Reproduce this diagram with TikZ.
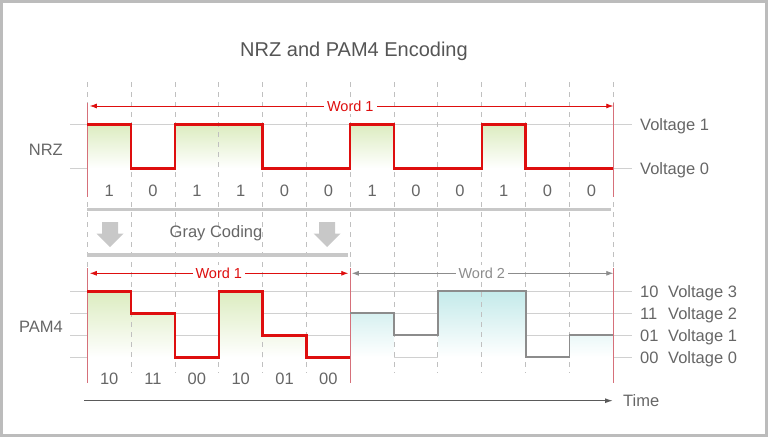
\documentclass[tikz,border=0pt]{standalone}
\usepackage{fontspec}
\setmainfont{Liberation Sans}
\usetikzlibrary{arrows.meta}
\definecolor{sigred}{RGB}{222,14,14}
\definecolor{edgered}{RGB}{214,112,122}
\definecolor{txtgray}{RGB}{102,102,102}
\definecolor{titlegray}{RGB}{85,85,85}
\definecolor{gridgray}{RGB}{208,208,208}
\definecolor{dashgray}{RGB}{192,192,192}
\definecolor{bargray}{RGB}{200,200,200}
\definecolor{wavegray}{RGB}{140,140,140}
\definecolor{axisgray}{RGB}{90,90,90}
\definecolor{framegray}{RGB}{188,188,188}
\definecolor{fillgreen}{RGB}{220,236,192}
\definecolor{fillcyan}{RGB}{196,234,234}

\begin{document}
\begin{tikzpicture}[x=1pt,y=-1pt,
    lbl/.style={text=txtgray,font=\fontsize{16.5}{18}\selectfont,inner sep=0pt,text height=11.8pt,text depth=0pt},
    ttl/.style={text=titlegray,font=\fontsize{20}{22}\selectfont,inner sep=0pt,text height=14.3pt,text depth=0pt},
    wordtxt/.style={font=\fontsize{14.5}{16}\selectfont,fill=white,inner sep=3pt,text height=10.4pt,text depth=0pt},
    level/.style={gridgray,line width=1pt},
    tick/.style={dashgray,dash pattern=on 5pt off 5pt,line width=0.9pt},
    edge/.style={edgered,line width=1pt},
    redwave/.style={sigred,line width=2.4pt,line join=miter},
    graywave/.style={wavegray,line width=1.8pt,line join=miter},
    bar/.style={bargray,line width=3.3pt},
    wordred/.style={sigred,line width=0.8pt,{Latex[length=7pt,width=5pt]}-{Latex[length=7pt,width=5pt]}},
    wordgray/.style={wavegray,line width=0.8pt,{Latex[length=7pt,width=5pt]}-{Latex[length=7pt,width=5pt]}},
    timeax/.style={axisgray,line width=1.2pt,-{Latex[length=8pt,width=5pt]}}]
  \useasboundingbox (0,0) rectangle (770,439);
  \draw[framegray,line width=2.7pt] (1.35,1.35) rectangle (766.6,435.6);

  \node[ttl] (title) at (354,49) {NRZ and PAM4 Encoding};
  \node[lbl,anchor=east] (nrz) at (63,150) {NRZ};
  \node[lbl,anchor=east] (pam) at (63,327) {PAM4};

  \foreach \y in {124.3,168.3,291.3,313.3,335.3,357.3}
    \draw[level] (70,\y) -- (632,\y);

  \begin{scope}[xshift=87.3pt,x=43.83pt]
    % fills fade towards the lowest level
    \foreach \a/\b in {0/1,2/4,6/7,9/10}
      \shade[top color=fillgreen,bottom color=white] (\a,124.3) rectangle (\b,168.3);
    \foreach \a/\b/\y/\p in {0/1/291.3/100,1/2/313.3/67,3/4/291.3/100,4/5/335.3/34}
      \shade[top color=fillgreen!\p!white,bottom color=white] (\a,\y) rectangle (\b,357.3);
    \foreach \a/\b/\y/\p in {6/7/313.3/67,8/10/291.3/100,11/12/335.3/34}
      \shade[top color=fillcyan!\p!white,bottom color=white] (\a,\y) rectangle (\b,357.3);

    \foreach \i in {0,...,12}
      \draw[tick] (\i,82) -- (\i,373);

    \draw[edge] (0,103) -- (0,197);
    \draw[edge] (12,103) -- (12,197);
    \draw[edge] (0,268) -- (0,383);
    \draw[edge] (6,268) -- (6,383);
    \draw[edge] (12,268) -- (12,383);

    \draw[redwave] (0,124.3) -- (1,124.3) -- (1,168.3) -- (2,168.3) -- (2,124.3) -- (4,124.3)
      -- (4,168.3) -- (6,168.3) -- (6,124.3) -- (7,124.3) -- (7,168.3) -- (9,168.3)
      -- (9,124.3) -- (10,124.3) -- (10,168.3) -- (12,168.3);
    \draw[redwave] (0,291.3) -- (1,291.3) -- (1,313.3) -- (2,313.3) -- (2,357.3) -- (3,357.3)
      -- (3,291.3) -- (4,291.3) -- (4,335.3) -- (5,335.3) -- (5,357.3) -- (6,357.3);
    \draw[graywave] (6,313.3) -- (7,313.3) -- (7,335.3) -- (8,335.3) -- (8,291.3) -- (10,291.3)
      -- (10,357.3) -- (11,357.3) -- (11,335.3) -- (12,335.3);

    \foreach \b [count=\i from 0] in {1,0,1,1,0,0,1,0,0,1,0,0}
      \node[lbl] (n\i) at (\i+0.5,191) {\b};
    \foreach \s [count=\i from 0] in {10,11,00,10,01,00}
      \node[lbl] (p\i) at (\i+0.5,379) {\s};

    \coordinate (wa) at (0,106);
    \coordinate (wb) at (12,106);
    \coordinate (wc) at (0,273.3);
    \coordinate (wd) at (6,273.3);
    \coordinate (we) at (12,273.3);
    \draw[wordred,shorten <=2.5pt] (wa) -- node[wordtxt,text=sigred] (w1) {Word 1} (wb);
    \draw[wordred,shorten <=2.5pt,shorten >=2pt] (wc) -- node[wordtxt,text=sigred] (w2) {Word 1} (wd);
    \draw[wordgray,shorten <=1.5pt] (wd) -- node[wordtxt,text=wavegray] (w3) {Word 2} (we);

    \coordinate (ba) at (0,209.5);
    \coordinate (bb) at (11.95,209.5);
    \coordinate (bc) at (0,255);
    \coordinate (bd) at (5.95,255);
    \draw[bar] (ba) -- (bb);
    \draw[bar] (bc) -- (bd);
  \end{scope}

  \foreach \ax in {110,327}
    \fill[bargray] (\ax-8,222) -- (\ax+8,222) -- (\ax+8,233.5) -- (\ax+13.5,233.5)
      -- (\ax,247) -- (\ax-13.5,233.5) -- (\ax-8,233.5) -- cycle;
  \node[lbl] (gc) at (216,232) {Gray Coding};

  \node[lbl,anchor=west] (v1) at (640,124.3) {Voltage 1};
  \node[lbl,anchor=west] (v0) at (640,168.3) {Voltage 0};
  \foreach \c/\k/\y in {10/3/291.3,11/2/313.3,01/1/335.3,00/0/357.3} {
    \node[lbl,anchor=west] (c\k) at (640,\y) {\c};
    \node[lbl,anchor=west] (l\k) at (668,\y) {Voltage \k};
  }

  \coordinate (t0) at (84,400.7);
  \coordinate (t1) at (613,400.7);
  \draw[timeax] (t0) -- (t1);
  \node[lbl,anchor=west] (time) at (623,400.7) {Time};
\end{tikzpicture}
\end{document}
